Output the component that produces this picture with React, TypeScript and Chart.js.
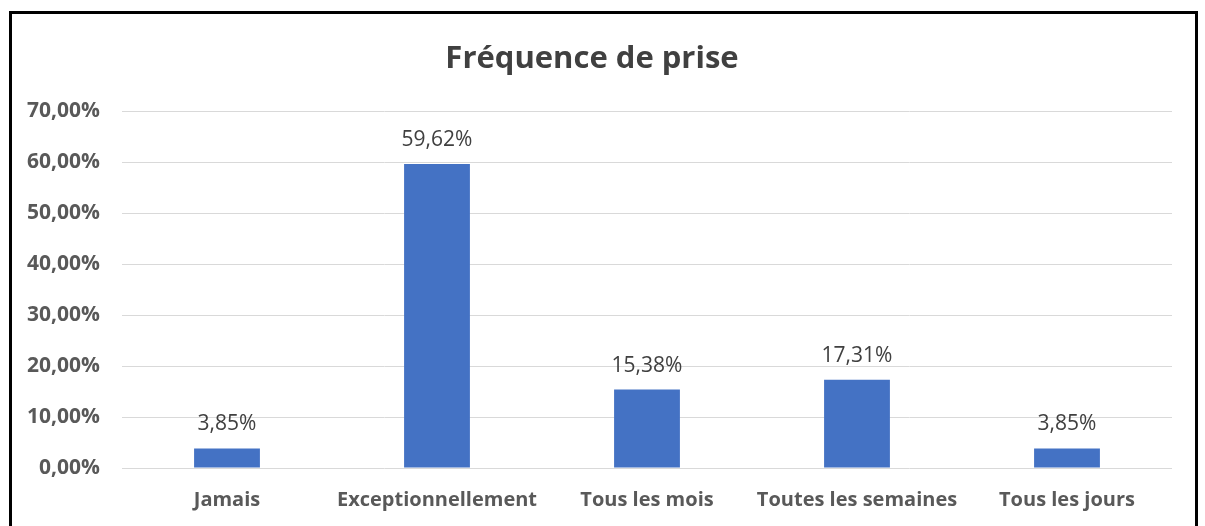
import React, { useEffect, useRef } from "react";
import { Chart, registerables } from "chart.js";

Chart.register(...registerables);

const categories = ["Jamais", "Exceptionnellement", "Tous les mois", "Toutes les semaines", "Tous les jours"];
const values = [3.85, 59.62, 15.38, 17.31, 3.85];
const yTicks = [0, 10, 20, 30, 40, 50, 60, 70];
const titleText = "Fréquence de prise";

const FONT = "'Open Sans', sans-serif";
const fmt = (v: number) => v.toFixed(2).replace(".", ",") + "%";

const dataLabels = {
  id: "dataLabels",
  afterDatasetsDraw(chart: any) {
    const ctx = chart.ctx;
    const meta = chart.getDatasetMeta(0);
    ctx.save();
    ctx.font = `21px ${FONT}`;
    ctx.fillStyle = "#404040";
    ctx.textAlign = "center";
    ctx.textBaseline = "middle";
    meta.data.forEach((bar: any, i: number) => {
      ctx.fillText(fmt(values[i]), bar.x, bar.y - 24);
    });
    ctx.restore();
  },
};

export default function App() {
  const ref = useRef<HTMLCanvasElement>(null);
  useEffect(() => {
    if (!ref.current) return;
    const chart = new Chart(ref.current, {
      type: "bar",
      data: {
        labels: categories,
        datasets: [
          {
            data: values,
            backgroundColor: "#4472C4",
            borderWidth: 0,
            categoryPercentage: 1,
            barPercentage: 0.3135,
          },
        ],
      },
      options: {
        animation: false,
        responsive: false,
        devicePixelRatio: 1,
        layout: { padding: { left: 12, right: 33, top: 0, bottom: 0 } },
        plugins: {
          legend: { display: false },
          tooltip: { enabled: false },
          title: {
            display: true,
            text: titleText,
            color: "#404040",
            font: { family: FONT, size: 31, weight: "bold", lineHeight: 1.2 },
            padding: { top: 41, bottom: 33 },
          },
        },
        scales: {
          x: {
            grid: { display: false, drawTicks: false },
            border: { display: false },
            ticks: {
              color: "#595959",
              font: { family: FONT, size: 20, weight: "bold" },
              padding: 20,
              maxRotation: 0,
              autoSkip: false,
            },
            afterFit: (s: any) => {
              s.height = 58;
            },
          },
          y: {
            min: 0,
            max: 70,
            afterBuildTicks: (s: any) => {
              s.ticks = yTicks.map((v) => ({ value: v }));
            },
            grid: { color: "#d9d9d9", lineWidth: 1, drawTicks: false },
            border: { display: false },
            ticks: {
              color: "#595959",
              font: { family: FONT, size: 21, weight: "bold" },
              padding: 22,
              callback: (v: any) => fmt(Number(v)),
            },
            afterFit: (s: any) => {
              s.width = 110;
            },
          },
        },
      },
      plugins: [dataLabels],
    });
    return () => chart.destroy();
  }, []);

  return (
    <div style={{ position: "fixed", left: 0, top: 0, width: 1205, height: 526, overflow: "hidden", background: "#fff" }}>
      <canvas ref={ref} width={1205} height={526} style={{ position: "absolute", left: 0, top: 0 }} />
      <div
        style={{
          position: "absolute",
          left: 9,
          top: 11,
          width: 1183,
          height: 560,
          border: "3px solid #000",
          pointerEvents: "none",
        }}
      />
    </div>
  );
}
